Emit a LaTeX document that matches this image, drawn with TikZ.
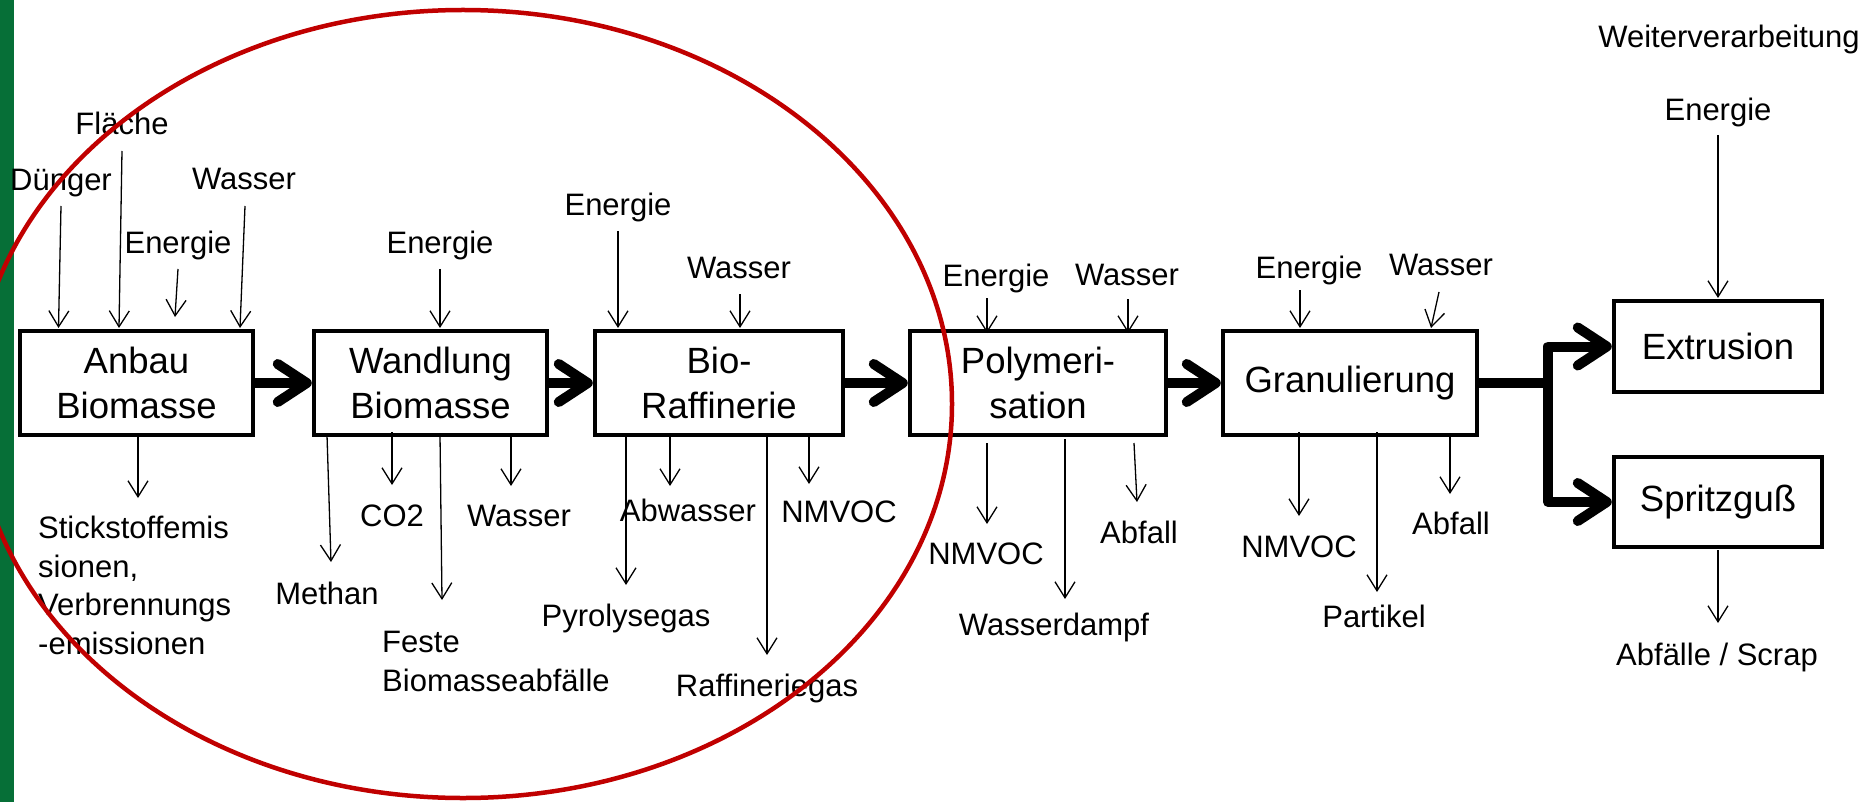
\documentclass[tikz,border=0pt]{standalone}
\usepackage{fontspec}
\setmainfont{Liberation Sans}
\usetikzlibrary{arrows.meta}
\definecolor{barg}{RGB}{6,111,55}
\definecolor{ellred}{RGB}{192,0,0}
\begin{document}
\begin{tikzpicture}[x=1pt,y=-1pt,
 proc/.style={draw, line width=4.5pt, minimum height=104pt, inner sep=0pt, align=center, font=\fontsize{36.5}{45}\selectfont},
 lbl/.style={inner sep=0pt, font=\fontsize{31}{38.5}\selectfont, anchor=base},
 mlbl/.style={inner sep=0pt, font=\fontsize{31}{38.5}\selectfont, anchor=base west, align=left},
 flow/.style={line width=1.3pt, -{Straight Barb[length=16pt,width=20pt]}},
 mainflow/.style={line width=10pt, line join=round, -{Straight Barb[length=29pt,width=38pt,round]}},
 mainline/.style={line width=10pt, line join=round}]
\useasboundingbox (0,0) rectangle (1870,802);
\fill[barg] (0,0) rectangle (14,802);

% process boxes
\node[proc, minimum width=233pt] (anbau) at (136.5,383) {Anbau\\Biomasse};
\node[proc, minimum width=233pt] (wand) at (430.5,383) {Wandlung\\Biomasse};
\node[proc, minimum width=248pt] (bio) at (719,383) {Bio-\\Raffinerie};
\node[proc, minimum width=256pt] (poly) at (1038,383) {Polymeri-\\sation};
\node[proc, minimum width=254pt] (gran) at (1350,383) {Granulierung};
\node[proc, minimum width=208pt, minimum height=91pt] (extr) at (1718,346.5) {Extrusion};
\node[proc, minimum width=208pt, minimum height=90pt] (spritz) at (1718,502) {Spritzguß};

% main flow
\draw[mainflow] (anbau.east) -- (wand.west);
\draw[mainflow] (wand.east) -- (bio.west);
\draw[mainflow] (bio.east) -- (poly.west);
\draw[mainflow] (poly.east) -- (gran.west);
\coordinate (bj) at (1548,383);
\draw[mainline] (gran.east) -- (bj);
\draw[mainflow] (bj) |- (extr.west);
\draw[mainflow] (bj) |- (spritz.west);

% labels
\node[lbl] (l1) at (61,191) {Dünger};
\node[lbl] (l2) at (122,135) {Fläche};
\node[lbl] (l3) at (178,254) {Energie};
\node[lbl] (l4) at (244,190) {Wasser};
\node[lbl] (l5) at (440,254) {Energie};
\node[mlbl] (l6) at (38,654) {Stickstoffemis\\sionen,\\Verbrennungs\\-emissionen};
\node[lbl] (l7) at (327,604) {Methan};
\node[lbl] (l8) at (392,526) {CO2};
\node[mlbl] (l9) at (382,691) {Feste\\Biomasseabfälle};
\node[lbl] (l10) at (519,526) {Wasser};
\node[lbl] (l11) at (618,216) {Energie};
\node[lbl] (l12) at (739,279) {Wasser};
\node[lbl] (l13) at (626,626) {Pyrolysegas};
\node[lbl] (l14) at (688,521) {Abwasser};
\node[lbl] (l15) at (767,696) {Raffineriegas};
\node[lbl] (l16) at (839,522) {NMVOC};
\node[lbl] (l17) at (996,287) {Energie};
\node[lbl] (l18) at (1127,285) {Wasser};
\node[lbl] (l19) at (986,564) {NMVOC};
\node[lbl] (l20) at (1054,635) {Wasserdampf};
\node[lbl] (l21) at (1139,543) {Abfall};
\node[lbl] (l22) at (1309,279) {Energie};
\node[lbl] (l23) at (1441,276) {Wasser};
\node[lbl] (l24) at (1299,557) {NMVOC};
\node[lbl] (l25) at (1374,627) {Partikel};
\node[lbl] (l26) at (1451,534) {Abfall};
\node[lbl] (l27) at (1729,48) {Weiterverarbeitung};
\node[lbl] (l28) at (1718,121) {Energie};
\node[lbl] (l29) at (1717,665) {Abfälle / Scrap};

% arrow end points
\coordinate (a1s) at (61,206);    \coordinate (a1e) at (58.5,328);
\coordinate (a2s) at (122,151);   \coordinate (a2e) at (119,328);
\coordinate (a3s) at (178,269);   \coordinate (a3e) at (175,317);
\coordinate (a4s) at (245,206);   \coordinate (a4e) at (240,328);
\coordinate (a5s) at (440,269);   \coordinate (a5e) at (440,328);
\coordinate (a6s) at (138,435);   \coordinate (a6e) at (138,498);
\coordinate (a7s) at (327,435);   \coordinate (a7e) at (331,562);
\coordinate (a8s) at (392,432);   \coordinate (a8e) at (392,485);
\coordinate (a9s) at (440,435);   \coordinate (a9e) at (442,600);
\coordinate (a10s) at (511,435);  \coordinate (a10e) at (511,486);
\coordinate (a11s) at (618,231);  \coordinate (a11e) at (618,328);
\coordinate (a12s) at (740,294);  \coordinate (a12e) at (740,328);
\coordinate (a13s) at (626,435);  \coordinate (a13e) at (626,585);
\coordinate (a14s) at (670,435);  \coordinate (a14e) at (670,486);
\coordinate (a15s) at (767,435);  \coordinate (a15e) at (767,655);
\coordinate (a16s) at (809,435);  \coordinate (a16e) at (809,484);
\coordinate (a17s) at (987,298);  \coordinate (a17e) at (987,333);
\coordinate (a18s) at (1128,299); \coordinate (a18e) at (1128,333);
\coordinate (a19s) at (987,443);  \coordinate (a19e) at (987,524);
\coordinate (a20s) at (1065,439); \coordinate (a20e) at (1065,599);
\coordinate (a21s) at (1134,443); \coordinate (a21e) at (1137,502);
\coordinate (a22s) at (1300,290); \coordinate (a22e) at (1300,328);
\coordinate (a23s) at (1439,292); \coordinate (a23e) at (1431,328);
\coordinate (a24s) at (1299,432); \coordinate (a24e) at (1299,516);
\coordinate (a25s) at (1377,432); \coordinate (a25e) at (1377,592);
\coordinate (a26s) at (1450,435); \coordinate (a26e) at (1450,494);
\coordinate (a27s) at (1718,135); \coordinate (a27e) at (1718,298);
\coordinate (a28s) at (1718,550); \coordinate (a28e) at (1718,623);

\foreach \i in {1,...,28} {\draw[flow] (a\i s) -- (a\i e);}

% red ellipse
\draw[ellred, line width=4.5pt] (463,404) ellipse [x radius=489pt, y radius=394pt];
\end{tikzpicture}
\end{document}
